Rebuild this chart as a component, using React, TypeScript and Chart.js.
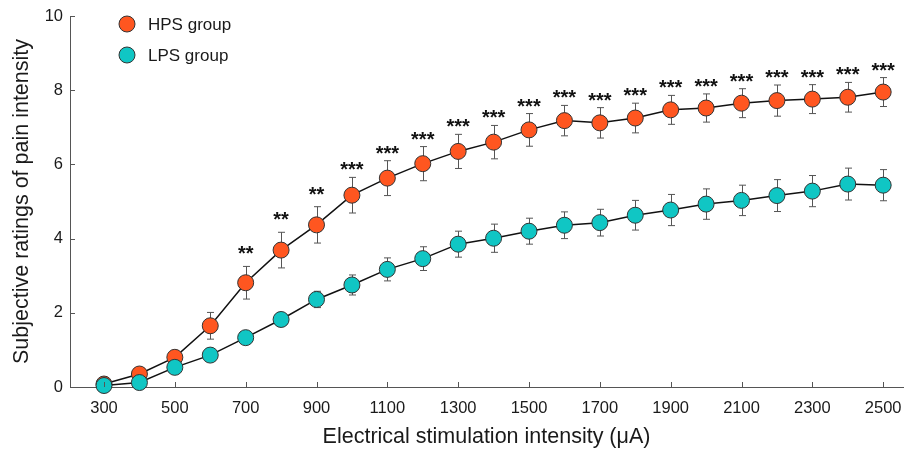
import React, { useEffect, useRef } from "react";
import { Chart, registerables } from "chart.js";

Chart.register(...registerables);

const intensities = [300, 400, 500, 600, 700, 800, 900, 1000, 1100, 1200, 1300, 1400, 1500, 1600, 1700, 1800, 1900, 2000, 2100, 2200, 2300, 2400, 2500];
const hpsMeans = [0.08, 0.35, 0.8, 1.65, 2.81, 3.69, 4.37, 5.17, 5.63, 6.02, 6.35, 6.6, 6.93, 7.18, 7.12, 7.25, 7.47, 7.52, 7.65, 7.72, 7.76, 7.81, 7.95];
const hpsErrors = [0.05, 0.08, 0.12, 0.36, 0.44, 0.48, 0.49, 0.48, 0.47, 0.46, 0.46, 0.45, 0.44, 0.41, 0.41, 0.4, 0.39, 0.38, 0.39, 0.42, 0.39, 0.4, 0.39];
const lpsMeans = [0.04, 0.12, 0.53, 0.86, 1.33, 1.82, 2.36, 2.75, 3.17, 3.46, 3.85, 4.01, 4.2, 4.36, 4.43, 4.63, 4.77, 4.93, 5.03, 5.16, 5.28, 5.47, 5.44];
const lpsErrors = [0.03, 0.05, 0.08, 0.1, 0.1, 0.15, 0.22, 0.27, 0.31, 0.32, 0.35, 0.38, 0.35, 0.36, 0.36, 0.4, 0.42, 0.41, 0.41, 0.43, 0.42, 0.43, 0.42];
const significance = ["", "", "", "", "**", "**", "**", "***", "***", "***", "***", "***", "***", "***", "***", "***", "***", "***", "***", "***", "***", "***", "***"];
const xTickValues = [300, 500, 700, 900, 1100, 1300, 1500, 1700, 1900, 2100, 2300, 2500];
const yTickValues = [0, 2, 4, 6, 8, 10];
const seriesNames = ["HPS group", "LPS group"];
const xTitle = "Electrical stimulation intensity (\u03bcA)";
const yTitle = "Subjective ratings of pain intensity";

const FONT = "'Liberation Sans', Arial, sans-serif";
const HPS_COLOR = "#FF5620";
const LPS_COLOR = "#10C6C4";
const TEXT = "#1a1a1a";
const AXIS = "#555555";

export default function App() {
  const ref = useRef<HTMLCanvasElement | null>(null);

  useEffect(() => {
    const canvas = ref.current;
    if (!canvas) return;

    const overlay = {
      id: "overlay",
      beforeDatasetsDraw(chart: any) {
        const ctx = chart.ctx;
        const xs = chart.scales.x;
        const ys = chart.scales.y;
        ctx.save();
        ctx.strokeStyle = "#555";
        ctx.lineWidth = 1;
        const drawErr = (means: number[], errs: number[]) => {
          means.forEach((m, i) => {
            const px = Math.round(xs.getPixelForValue(intensities[i])) + 0.5;
            const top = ys.getPixelForValue(m + errs[i]);
            const bot = ys.getPixelForValue(m - errs[i]);
            ctx.beginPath();
            ctx.moveTo(px, top);
            ctx.lineTo(px, bot);
            ctx.moveTo(px - 3.5, top);
            ctx.lineTo(px + 3.5, top);
            ctx.moveTo(px - 3.5, bot);
            ctx.lineTo(px + 3.5, bot);
            ctx.stroke();
          });
        };
        drawErr(hpsMeans, hpsErrors);
        drawErr(lpsMeans, lpsErrors);
        ctx.restore();
      },
      afterDraw(chart: any) {
        const ctx = chart.ctx;
        const xs = chart.scales.x;
        const ys = chart.scales.y;
        const area = chart.chartArea;
        ctx.save();
        // inward ticks
        ctx.strokeStyle = AXIS;
        ctx.lineWidth = 1;
        ctx.beginPath();
        xTickValues.forEach((v) => {
          const px = Math.round(xs.getPixelForValue(v)) + 0.5;
          ctx.moveTo(px, area.bottom);
          ctx.lineTo(px, area.bottom - 5);
        });
        yTickValues.forEach((v) => {
          const py = Math.round(ys.getPixelForValue(v)) + 0.5;
          ctx.moveTo(area.left, py);
          ctx.lineTo(area.left + 5, py);
        });
        ctx.stroke();

        // significance stars
        ctx.fillStyle = "#111";
        ctx.font = `bold 20px ${FONT}`;
        ctx.textAlign = "center";
        ctx.textBaseline = "alphabetic";
        significance.forEach((s, i) => {
          if (!s) return;
          const px = xs.getPixelForValue(intensities[i]);
          const top = ys.getPixelForValue(hpsMeans[i] + hpsErrors[i]);
          const lift = s.length === 2 ? 6 : 1;
          ctx.fillText(s, px, top - lift);
        });

        // legend
        const colors = [HPS_COLOR, LPS_COLOR];
        ctx.font = `17px ${FONT}`;
        ctx.textAlign = "left";
        ctx.textBaseline = "middle";
        seriesNames.forEach((name, i) => {
          const cy = 24 + i * 31;
          ctx.beginPath();
          ctx.arc(127, cy, 8, 0, Math.PI * 2);
          ctx.fillStyle = colors[i];
          ctx.fill();
          ctx.strokeStyle = "#333";
          ctx.lineWidth = 1;
          ctx.stroke();
          ctx.fillStyle = TEXT;
          ctx.fillText(name, 148, cy + 1);
        });

        // axis titles
        ctx.font = `21.5px ${FONT}`;
        ctx.textAlign = "center";
        ctx.textBaseline = "middle";
        ctx.fillText(xTitle, (area.left + area.right) / 2, 437);
        ctx.save();
        ctx.translate(22, (area.top + area.bottom) / 2);
        ctx.rotate(-Math.PI / 2);
        ctx.fillText(yTitle, 0, 0);
        ctx.restore();
        ctx.restore();
      },
    };

    const chart = new Chart(canvas, {
      type: "line",
      data: {
        datasets: [
          {
            label: seriesNames[1],
            data: intensities.map((x, i) => ({ x, y: lpsMeans[i] })),
            borderColor: "#111",
            borderWidth: 1.5,
            pointRadius: 8,
            pointBackgroundColor: LPS_COLOR,
            pointBorderColor: "#333",
            pointBorderWidth: 1,
            clip: false,
            order: 0,
          } as any,
          {
            label: seriesNames[0],
            data: intensities.map((x, i) => ({ x, y: hpsMeans[i] })),
            borderColor: "#111",
            borderWidth: 1.5,
            pointRadius: 8,
            pointBackgroundColor: HPS_COLOR,
            pointBorderColor: "#333",
            pointBorderWidth: 1,
            clip: false,
            order: 1,
          } as any,
        ],
      },
      options: {
        animation: false,
        responsive: false,
        layout: { autoPadding: false, padding: { top: 16, right: 3, left: 0, bottom: 0 } },
        plugins: { legend: { display: false }, tooltip: { enabled: false } },
        scales: {
          x: {
            type: "linear",
            min: 204,
            max: 2556,
            afterBuildTicks: (s: any) => {
              s.ticks = xTickValues.map((v) => ({ value: v }));
            },
            afterFit: (s: any) => {
              s.height = 66;
              s.paddingLeft = 0;
              s.paddingRight = 0;
            },
            ticks: {
              autoSkip: false,
              maxRotation: 0,
              padding: 12,
              color: TEXT,
              font: { family: FONT, size: 16.5 },
              callback: (v: any) => String(v),
            },
            grid: { display: false, drawTicks: false },
            border: { display: true, color: AXIS, width: 1 },
          },
          y: {
            min: 0,
            max: 10,
            afterBuildTicks: (s: any) => {
              s.ticks = yTickValues.map((v) => ({ value: v }));
            },
            afterFit: (s: any) => {
              s.width = 70;
              s.paddingTop = 0;
              s.paddingBottom = 0;
            },
            ticks: {
              padding: 7,
              color: TEXT,
              font: { family: FONT, size: 16.5 },
              callback: (v: any) => String(v),
            },
            grid: { display: false, drawTicks: false },
            border: { display: true, color: AXIS, width: 1 },
          },
        },
      },
      plugins: [overlay],
    } as any);

    return () => chart.destroy();
  }, []);

  return (
    <div style={{ position: "fixed", left: 0, top: 0, width: 906, height: 453, background: "#fff" }}>
      <canvas ref={ref} width={906} height={453} style={{ width: 906, height: 453, display: "block" }} />
    </div>
  );
}
